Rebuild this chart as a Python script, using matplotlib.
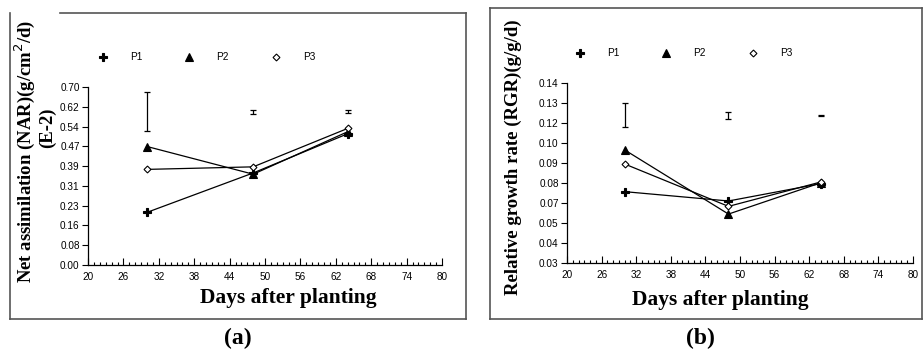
import matplotlib
matplotlib.use('Agg')
import matplotlib.pyplot as plt
from matplotlib.lines import Line2D
import numpy as np

days = [30, 48, 64]
series_names = ['P1', 'P2', 'P3']

# Net assimilation rate (E-2 g/cm2/d)
nar_p1 = [0.207, 0.362, 0.516]
nar_p2 = [0.466, 0.357, 0.524]
nar_p3 = [0.376, 0.386, 0.537]
nar_err_center = [0.604, 0.603, 0.603]
nar_err_half = [0.076, 0.008, 0.006]
nar_ticklabels = ['0.00', '0.08', '0.16', '0.23', '0.31', '0.39', '0.47', '0.54', '0.62', '0.70']

# Relative growth rate (g/g/d)
rgr_p1 = [0.0736, 0.0679, 0.0785]
rgr_p2 = [0.0991, 0.0599, 0.0790]
rgr_p3 = [0.0905, 0.0646, 0.0795]
rgr_err_center = [0.1204, 0.1202, 0.1200]
rgr_err_half = [0.0074, 0.0020, 0.0002]
rgr_ticklabels = ['0.03', '0.04', '0.05', '0.07', '0.08', '0.09', '0.10', '0.12', '0.13', '0.14']

W, H = 924, 355
SERIF = ['Liberation Serif', 'DejaVu Serif']
SANS = ['Liberation Sans', 'DejaVu Sans']
markers = [dict(marker='P', ms=5.5, mfc='black'),
           dict(marker='^', ms=5.5, mfc='black'),
           dict(marker='D', ms=3.5, mfc='white')]


def fx(px):
    return px / W


def fy(py):
    return 1 - py / H


def setup(ax, ymin, ymax, ticklabels):
    ax.set_xlim(20, 80)
    ax.set_ylim(ymin, ymax)
    ax.set_xticks(np.arange(20, 81, 6))
    ax.set_xticks(np.arange(20, 81, 1), minor=True)
    ax.set_yticks(np.linspace(ymin, ymax, len(ticklabels)))
    ax.set_yticklabels(ticklabels)
    for s in ['top', 'right']:
        ax.spines[s].set_visible(False)
    for s in ['left', 'bottom']:
        ax.spines[s].set_linewidth(0.9)
    ax.tick_params(axis='x', which='major', direction='in', length=5, width=0.8, pad=5,
                   labelsize=7.2)
    ax.tick_params(axis='x', which='minor', direction='in', length=2.5, width=0.8)
    ax.tick_params(axis='y', direction='out', length=4, width=0.8, pad=2, labelsize=7.2)
    for lab in ax.get_xticklabels() + ax.get_yticklabels():
        lab.set_family(SANS)
    ax.patch.set_alpha(0)


def draw(ax, ys, centers, halves):
    for y, m in zip(ys, markers):
        ax.plot(days, y, color='black', lw=0.9, mec='black', mew=0.8, **m)
    ax.errorbar(days, centers, yerr=halves, fmt='none', ecolor='black',
                elinewidth=0.9, capsize=2.5, capthick=0.9)


fig = plt.figure(figsize=(W / 100, H / 100), dpi=100)

# panel frames
frame = dict(color='#555555', lw=1.2, transform=fig.transFigure)
fig.add_artist(Line2D([fx(10), fx(10)], [fy(13), fy(319)], **frame))
fig.add_artist(Line2D([fx(60), fx(466)], [fy(13), fy(13)], **frame))
fig.add_artist(Line2D([fx(466), fx(466)], [fy(13), fy(319)], **frame))
fig.add_artist(Line2D([fx(10), fx(466)], [fy(319), fy(319)], **frame))
fig.add_artist(Line2D([fx(490), fx(490)], [fy(8), fy(319)], **frame))
fig.add_artist(Line2D([fx(490), fx(922)], [fy(8), fy(8)], **frame))
fig.add_artist(Line2D([fx(922), fx(922)], [fy(8), fy(319)], **frame))
fig.add_artist(Line2D([fx(490), fx(922)], [fy(319), fy(319)], **frame))

ax1 = fig.add_axes([fx(88), fy(265), fx(442) - fx(88), fy(87) - fy(265)])
setup(ax1, 0.0, 0.70, nar_ticklabels)
draw(ax1, [nar_p1, nar_p2, nar_p3], nar_err_center, nar_err_half)

ax2 = fig.add_axes([fx(567), fy(263), fx(913) - fx(567), fy(83) - fy(263)])
setup(ax2, 0.03, 0.14, rgr_ticklabels)
draw(ax2, [rgr_p1, rgr_p2, rgr_p3], rgr_err_center, rgr_err_half)

# legends
handles = [Line2D([], [], ls='none', color='black', mec='black', mew=0.8, **m) for m in markers]
for x0, y0 in [(98, 57), (575, 53)]:
    fig.legend(handles, series_names, loc='center left', bbox_to_anchor=(fx(x0), fy(y0)),
               ncol=3, frameon=False, handlelength=1, handletextpad=2.2,
               columnspacing=4.2, borderpad=0, borderaxespad=0,
               prop=dict(family=SANS, size=7.2))

# axis titles
bold = dict(family=SERIF, weight='bold')
fig.text(fx(288), fy(298), 'Days after planting', ha='center', va='center', size=15.5, **bold)
fig.text(fx(720), fy(300), 'Days after planting', ha='center', va='center', size=15.5, **bold)
fig.text(fx(25), fy(151), 'Net assimilation (NAR)(g/cm$^{2}$/d)', rotation=90,
         ha='center', va='center', size=13.5, **bold)
fig.text(fx(47), fy(128), '(E-2)', rotation=90, ha='center', va='center', size=13.5, **bold)
fig.text(fx(513), fy(157), 'Relative growth rate (RGR)(g/g/d)', rotation=90,
         ha='center', va='center', size=13.5, **bold)

# panel captions
fig.text(fx(238), fy(338), '(a)', ha='center', va='center', size=17, **bold)
fig.text(fx(700), fy(338), '(b)', ha='center', va='center', size=17, **bold)

fig.savefig('out.png', dpi=100)
